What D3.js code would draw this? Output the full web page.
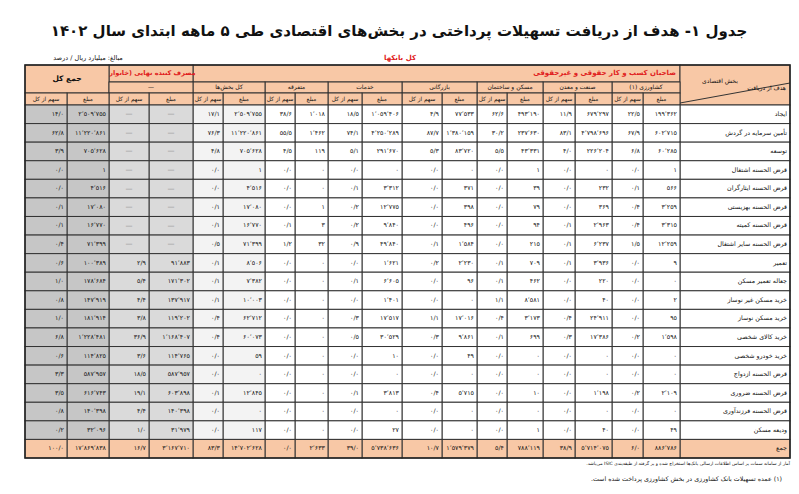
<!DOCTYPE html>
<html><head><meta charset="utf-8">
<script src="https://cdn.jsdelivr.net/npm/d3@7"></script>
<style>body{margin:0;background:#fff}svg{font-family:"DejaVu Sans",sans-serif}</style>
</head><body><svg id="c" width="799" height="494"></svg>
<script>
const title = "جدول ۱- هدف از دریافت تسهیلات پرداختی در بخش‌های اقتصادی طی ۵ ماهه ابتدای سال ۱۴۰۲";
const sectors = ["کشاورزی (۱)","صنعت و معدن","مسکن و ساختمان","بازرگانی","خدمات","متفرقه","کل بخش‌ها","—"];
const rowLabels = ["ایجاد","تأمین سرمایه در گردش","توسعه","قرض الحسنه اشتغال","قرض الحسنه ایثارگران","قرض الحسنه بهزیستی","قرض الحسنه کمیته","قرض الحسنه سایر اشتغال","تعمیر","جعاله تعمیر مسکن","خرید مسکن غیر نوساز","خرید مسکن نوساز","خرید کالای شخصی","خرید خودرو شخصی","قرض الحسنه ازدواج","قرض الحسنه ضروری","قرض الحسنه فرزندآوری","ودیعه مسکن","جمع"];
const values = [
["199,362","22/5","679,297","11/9","493,190","62/6","77,533","4/9","1,059,406","18/5","1,018","38/6","2,509,755","17/1","—","—","2,509,755","14/0"],
["602,715","67/9","4,798,696","83/1","237,630","30/2","1,380,159","87/7","4,250,289","74/1","1,462","55/5","11,220,861","76/3","—","—","11,220,861","62/8"],
["60,285","6/8","226,204","4/0","43,331","5/5","83,720","5/3","291,670","5/1","119","4/5","705,628","4/8","—","—","705,628","3/9"],
["1","0/0","0","0/0","1","0/0","0","0/0","0","0/0","0","0/0","1","0/0","—","—","1","0/0"],
["566","0/1","232","0/0","39","0/0","371","0/0","3,312","0/1","0","0/0","4,516","0/0","—","—","4,516","0/0"],
["3,259","0/4","369","0/0","79","0/0","398","0/0","12,775","0/2","1","0/0","17,080","0/1","—","—","17,080","0/1"],
["3,315","0/4","2,963","0/1","94","0/0","496","0/0","9,840","0/2","3","0/1","16,770","0/1","—","—","16,770","0/1"],
["12,259","1/5","6,237","0/1","215","0/0","1,584","0/1","49,840","0/9","32","1/2","71,399","0/5","—","—","71,399","0/4"],
["9","0/0","3,936","0/1","709","0/1","2,230","0/2","1,621","0/0","0","0/0","8,506","0/1","91,883","2/9","100,389","0/6"],
["0","0/0","220","0/0","462","0/1","96","0/0","6,605","0/1","0","0/0","7,382","0/1","171,302","5/4","178,684","1/0"],
["2","0/0","40","0/0","8,581","1/1","0","0/0","1,401","0/0","0","0/0","10,003","0/1","137,917","4/4","147,919","0/8"],
["95","0/0","24,911","0/4","3,173","0/4","17,016","1/1","17,517","0/3","0","0/0","62,712","0/4","119,202","3/8","181,914","1/0"],
["1,598","0/2","17,386","0/3","699","0/1","9,861","0/3","30,529","0/5","0","0/0","60,073","0/4","1,168,407","36/9","1,228,481","6/8"],
["0","0/0","0","0/0","0","0/0","49","0/0","10","0/0","0","0/0","59","0/0","114,765","3/6","114,825","0/6"],
["0","0/0","0","0/0","0","0/0","0","0/0","0","0/0","0","0/0","0","0/0","587,957","18/5","587,957","3/3"],
["2,109","0/2","1,198","0/0","10","0/0","5,715","0/4","3,813","0/1","0","0/0","12,845","0/1","603,898","19/1","616,743","3/5"],
["0","0/0","0","0/0","0","0/0","0","0/0","0","0/0","0","0/0","0","0/0","140,398","4/4","140,398","0/8"],
["49","0/0","40","0/0","1","0/0","0","0/0","27","0/0","0","0/0","117","0/0","31,979","1/0","32,096","0/2"],
["886,786","6/0","5,714,075","38/9","788,119","5/4","1,579,379","10/7","5,738,636","39/0","2,633","0/0","14,702,628","83/3","3,167,710","16/7","17,869,838","100/0"]
];
const fa = s => String(s).replace(/\d/g, d => "۰۱۲۳۴۵۶۷۸۹"[d]).replace(/,/g, "٬");

const svg = d3.select("#c");
const edges = [790,680,643,612,575,543,507,477,442,402,362,328,295,265,223,193,149,109,67,25];
const yTop = 65, hdr = [65,82,93,105];
const y = d3.scaleLinear().domain([0, rowLabels.length]).range([105, 458]);
const line = "#333";
function cell(x0,x1,y0,y1,fill){
  svg.append("rect").attr("x",x1).attr("y",y0).attr("width",x0-x1).attr("height",y1-y0)
   .attr("fill",fill).attr("stroke",line).attr("stroke-width",1);
}
function txt(x,yy,t,o={}){
  svg.append("text").attr("x",x).attr("y",yy).attr("text-anchor",o.a||"middle")
   .attr("font-size",o.s||6.5).attr("font-weight",o.w||"normal").attr("fill",o.c||"#111")
   .attr("direction","rtl").attr("dominant-baseline","middle").text(t);
}
const salmon = "#f8c8a6";
function colFill(j){ if(j>=16) return "#c6c6c6"; if(j>=14) return "#dadada"; if(j>=12) return "#f3f3f3"; return "#fff"; }

txt(399,31,title,{s:15,w:"bold"});
txt(400,58,"کل بانکها",{s:7,c:"#e02020",w:"bold"});
txt(88,58,"مبالغ: میلیارد ریال / درصد",{s:6.5});

cell(edges[1],edges[15],hdr[0],hdr[1],salmon);
txt(edges[1]-4,(hdr[0]+hdr[1])/2,"صاحبان کسب و کار حقوقی و غیرحقوقی",{a:"start",s:7,c:"#e02020",w:"bold"});
cell(edges[15],edges[17],hdr[0],hdr[1],salmon);
txt((edges[15]+edges[17])/2,(hdr[0]+hdr[1])/2,"مصرف کننده نهایی (خانوار)",{s:6.5,c:"#e02020",w:"bold"});
cell(edges[17],edges[19],hdr[0],hdr[2],salmon);
txt((edges[17]+edges[19])/2,(hdr[0]+hdr[2])/2,"جمع کل",{s:7.5,w:"bold"});
cell(edges[0],edges[1],hdr[0],hdr[3],salmon);
svg.append("line").attr("x1",edges[0]).attr("y1",hdr[0]+18).attr("x2",edges[1]).attr("y2",hdr[3]-2).attr("stroke",line);
txt(edges[0]-4,hdr[0]+23,"هدف از دریافت",{a:"start",s:6});
txt(edges[1]+40,hdr[0]+16,"بخش اقتصادی",{s:6});
sectors.forEach((s,i)=>{
  const x0=edges[1+2*i], x1=edges[3+2*i];
  cell(x0,x1,hdr[1],hdr[2],salmon);
  txt((x0+x1)/2,(hdr[1]+hdr[2])/2,s,{s:6});
});
for(let j=0;j<18;j++){
  const x0=edges[1+j], x1=edges[2+j];
  cell(x0,x1,hdr[2],hdr[3],salmon);
  txt((x0+x1)/2,(hdr[2]+hdr[3])/2,j%2===0?"مبلغ":"سهم از کل",{s:5.8});
}

rowLabels.forEach((lab,i)=>{
  const y0=y(i), y1=y(i+1), last = i===rowLabels.length-1;
  cell(edges[0],edges[1],y0,y1,last?salmon:"#fff");
  txt(edges[0]-3,(y0+y1)/2,lab,{a:"start",s:6.3});
  values[i].forEach((v,j)=>{
    const x0=edges[1+j], x1=edges[2+j];
    cell(x0,x1,y0,y1,last?salmon:colFill(j));
    if(v==="—") txt((x0+x1)/2,(y0+y1)/2,"—",{s:7,c:"#888"});
    else svg.append("text").attr("x",x0-3).attr("y",(y0+y1)/2).attr("font-size",6.3)
      .attr("text-anchor","end").attr("dominant-baseline","middle").attr("fill","#111").text(fa(v));
  });
});
svg.append("rect").attr("x",edges[19]).attr("y",yTop).attr("width",edges[0]-edges[19]).attr("height",458-yTop)
  .attr("fill","none").attr("stroke","#222").attr("stroke-width",1.5);

txt(790,464,"آمار از سامانه سمات بر اساس اطلاعات ارسالی بانک‌ها استخراج شده و بر گرفته از طبقه‌بندی ISIC می‌باشد.",{a:"start",s:4.5});
txt(782,479,"(۱)    عمده تسهیلات بانک کشاورزی در بخش کشاورزی پرداخت شده است.",{a:"start",s:6.3});
</script></body></html>
